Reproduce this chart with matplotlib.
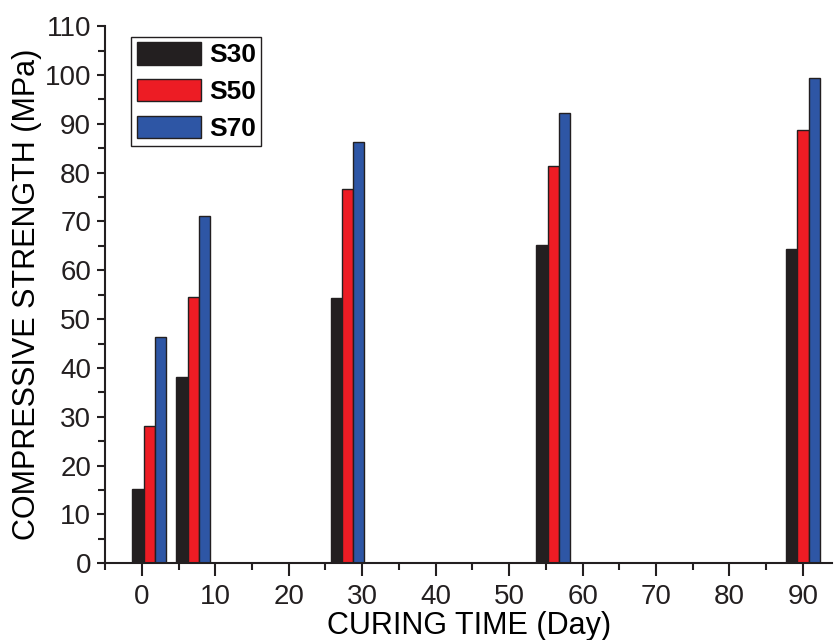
import numpy as np
from matplotlib import pyplot as plt
from matplotlib.ticker import MultipleLocator

# compressive strength vs curing time
days = [1, 7, 28, 56, 90]
s30 = [15.2, 38.1, 54.3, 65.2, 64.3]
s50 = [28.1, 54.5, 76.6, 81.4, 88.7]
s70 = [46.3, 71.1, 86.3, 92.2, 99.4]
labels = ['S30', 'S50', 'S70']
colors = ['#231f20', '#ed1c24', '#2e56a5']

narrow = ['Liberation Sans Narrow', 'Liberation Sans', 'DejaVu Sans']

fig = plt.figure(figsize=(8.34, 6.4), dpi=100)
ax = fig.add_axes([0.126, 0.12, 0.872, 0.839])

w = 1.53
x = np.array(days)
for i, (vals, lab, c) in enumerate(zip([s30, s50, s70], labels, colors)):
    ax.bar(x + (i - 1) * w, vals, w, color=c, edgecolor='#231f20',
           linewidth=1.0, label=lab)

ax.set_xlim(-5, 94)
ax.set_ylim(0, 110)
ax.xaxis.set_major_locator(MultipleLocator(10))
ax.xaxis.set_minor_locator(MultipleLocator(5))
ax.yaxis.set_major_locator(MultipleLocator(10))
ax.yaxis.set_minor_locator(MultipleLocator(5))
ax.spines['top'].set_visible(False)
ax.spines['right'].set_visible(False)
for s in ['left', 'bottom']:
    ax.spines[s].set_linewidth(1.5)
    ax.spines[s].set_color('#231f20')
ax.tick_params(which='major', direction='out', length=9, width=1.5,
               colors='#231f20', labelsize=20, pad=6)
ax.tick_params(which='minor', direction='out', length=5, width=1.5,
               colors='#231f20')
ax.tick_params(axis='y', which='major', length=6, pad=4)
for t in ax.get_xticklabels() + ax.get_yticklabels():
    t.set_family(narrow)

ax.set_xlabel('CURING TIME (Day)', fontsize=22, family=narrow, labelpad=1)
ax.set_ylabel('COMPRESSIVE STRENGTH (MPa)', fontsize=22, family=narrow,
              labelpad=2)

leg = ax.legend(loc='upper left', bbox_to_anchor=(0.036, 0.98),
                prop={'family': ['Liberation Sans', 'DejaVu Sans'],
                      'weight': 'bold', 'size': 19},
                fancybox=False, edgecolor='#231f20', framealpha=1,
                handlelength=2.45, handleheight=0.92, handletextpad=0.3,
                labelspacing=0.44, borderpad=0.2, borderaxespad=0)
leg.get_frame().set_linewidth(1.0)

plt.savefig('out.png', dpi=100)
